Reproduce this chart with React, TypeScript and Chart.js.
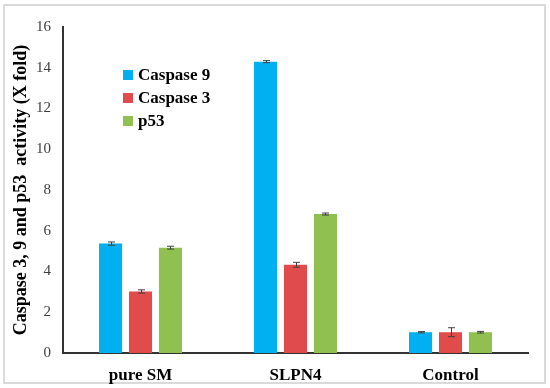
import React, { useEffect, useRef } from "react";
import { Chart, registerables } from "chart.js";
Chart.register(...registerables);

const categories = ["pure SM", "SLPN4", "Control"];
const seriesNames = ["Caspase 9", "Caspase 3", "p53"];
const caspase9 = [5.37, 14.3, 1.02];
const caspase3 = [3.02, 4.33, 1.02];
const p53 = [5.17, 6.82, 1.02];
const caspase9Err = [0.08, 0.05, 0.03];
const caspase3Err = [0.08, 0.12, 0.22];
const p53Err = [0.07, 0.05, 0.04];
const yMin = 0;
const yMax = 16;
const yStep = 2;
const yTitle = "Caspase 3, 9 and p53  activity (X fold)";
const colors = ["#00B0F0", "#E04B4B", "#8FC050"];

const SERIF = "'Liberation Serif', 'Times New Roman', serif";

const frame = {
  id: "frame",
  beforeDraw(chart: any) {
    const ctx = chart.ctx;
    ctx.save();
    ctx.fillStyle = "#ffffff";
    ctx.fillRect(0, 0, chart.width, chart.height);
    ctx.strokeStyle = "#DADADA";
    ctx.lineWidth = 2;
    ctx.strokeRect(4, 5, 541, 378);
    ctx.restore();
  },
};

const errorBars = {
  id: "errorBars",
  afterDatasetsDraw(chart: any) {
    const ctx = chart.ctx;
    const y = chart.scales.y;
    ctx.save();
    ctx.strokeStyle = "#404040";
    ctx.lineWidth = 1;
    chart.data.datasets.forEach((ds: any, di: number) => {
      const meta = chart.getDatasetMeta(di);
      meta.data.forEach((el: any, i: number) => {
        const v = ds.data[i];
        const e = ds.errors[i];
        const x = Math.round(el.x) + 0.5;
        const yTop = y.getPixelForValue(v + e);
        const yBot = y.getPixelForValue(v - e);
        ctx.beginPath();
        ctx.moveTo(x, yTop);
        ctx.lineTo(x, yBot);
        ctx.moveTo(x - 3.5, yTop);
        ctx.lineTo(x + 3.5, yTop);
        ctx.moveTo(x - 3.5, yBot);
        ctx.lineTo(x + 3.5, yBot);
        ctx.stroke();
      });
    });
    ctx.restore();
  },
};

const innerLegend = {
  id: "innerLegend",
  afterDraw(chart: any) {
    const ctx = chart.ctx;
    const area = chart.chartArea;
    const x0 = area.left + 60;
    const y0 = area.top + 48;
    const rowH = 23;
    ctx.save();
    ctx.font = `bold 17px ${SERIF}`;
    ctx.textBaseline = "middle";
    ctx.textAlign = "left";
    chart.data.datasets.forEach((ds: any, i: number) => {
      const cy = y0 + i * rowH;
      ctx.fillStyle = ds.backgroundColor;
      ctx.fillRect(x0, cy - 5, 10, 10);
      ctx.fillStyle = "#000000";
      ctx.fillText(ds.label, x0 + 15, cy + 1);
    });
    ctx.restore();
  },
};

export default function App() {
  const ref = useRef<HTMLCanvasElement | null>(null);
  useEffect(() => {
    if (!ref.current) return;
    const values = [caspase9, caspase3, p53];
    const errs = [caspase9Err, caspase3Err, p53Err];
    const chart = new Chart(ref.current, {
      type: "bar",
      data: {
        labels: categories,
        datasets: seriesNames.map((name, i) => ({
          label: name,
          data: values[i],
          errors: errs[i],
          backgroundColor: colors[i],
          borderWidth: 0,
          categoryPercentage: 0.58,
          barPercentage: 0.77,
        })) as any,
      },
      options: {
        responsive: false,
        animation: false,
        layout: { padding: { left: 0, top: 27, right: 22, bottom: 0 } },
        plugins: {
          legend: { display: false },
          tooltip: { enabled: false },
        },
        scales: {
          x: {
            grid: { display: false, drawTicks: false },
            border: { display: true, color: "#333333", width: 2 },
            ticks: {
              color: "#000000",
              font: { family: SERIF, size: 17, weight: "bold" },
              padding: 12,
            },
            afterFit: (s: any) => {
              s.height = 35;
            },
          },
          y: {
            min: yMin,
            max: yMax,
            grid: { display: false, drawTicks: false },
            border: { display: true, color: "#333333", width: 2 },
            ticks: {
              stepSize: yStep,
              color: "#404040",
              font: { family: SERIF, size: 15 },
              padding: 12,
            },
            title: {
              display: true,
              text: yTitle,
              color: "#000000",
              font: { family: SERIF, size: 18, weight: "bold" },
              padding: { top: 11, bottom: 0 },
            },
            afterFit: (s: any) => {
              s.width = 63;
            },
          },
        },
      },
      plugins: [frame, errorBars, innerLegend],
    });
    return () => chart.destroy();
  }, []);
  return (
    <div style={{ position: "absolute", left: 0, top: 0, width: 550, height: 388, background: "#fff" }}>
      <canvas ref={ref} width={550} height={388} style={{ display: "block" }} />
    </div>
  );
}
